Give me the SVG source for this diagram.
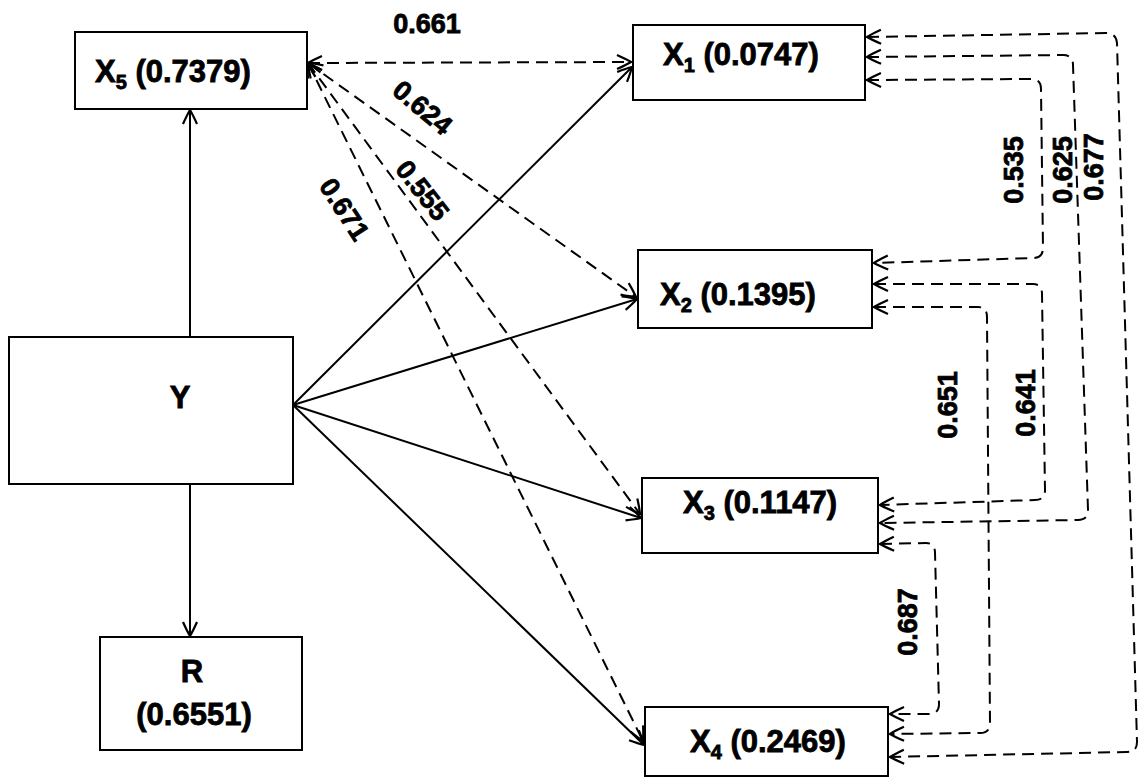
<svg xmlns="http://www.w3.org/2000/svg" width="1141" height="778" viewBox="0 0 1141 778">
<style>
.box{fill:#fff;stroke:#000;stroke-width:2}
.nt{font-family:"Liberation Sans",Arial,sans-serif;font-weight:bold;font-size:31px;fill:#000;stroke:#000;stroke-width:0.8}
.sub{font-size:20px}
.lb{font-family:"Liberation Sans",Arial,sans-serif;font-weight:bold;font-size:27px;fill:#000;stroke:#000;stroke-width:0.8;text-anchor:middle}
.sol{fill:none;stroke:#000;stroke-width:2;marker-end:url(#ah)}
.das{fill:none;stroke:#000;stroke-width:2;stroke-dasharray:12 7;marker-start:url(#ah);marker-end:url(#ah)}
</style>
<defs>
<marker id="ah" viewBox="-16 -9 18 18" markerWidth="18" markerHeight="18" refX="0" refY="0" orient="auto-start-reverse" markerUnits="userSpaceOnUse">
<path d="M-14,-7 Q-5,-3 0,0 Q-5,3 -14,7" fill="none" stroke="#000" stroke-width="2.2" stroke-dasharray="none"/>
</marker>
</defs>
<rect width="1141" height="778" fill="#fff"/>
<g id="connectors">
<path class="sol" d="M190,337 L190,110"/>
<path class="sol" d="M190,484 L190,636"/>
<path class="sol" d="M293,405 L632,67"/>
<path class="sol" d="M293,405 L637,299"/>
<path class="sol" d="M293,405 L641,518"/>
<path class="sol" d="M293,405 L644,745"/>
<path class="das" d="M308,63 L631,62"/>
<path class="das" d="M308,63 L636,297"/>
<path class="das" d="M308,63 L640,514"/>
<path class="das" d="M308,63 L643,741"/>
<path class="das" d="M867,37 L1106,33 Q1116,33 1117,43 L1137,742 Q1137,752 1127,752 L890,757"/>
<path class="das" d="M867,57 L1063,55 Q1073,55 1073,65 L1088,510 Q1088,520 1078,520 L880,523"/>
<path class="das" d="M867,80 L1031,79 Q1041,79 1041,89 L1043,248 Q1043,258 1033,258 L874,263"/>
<path class="das" d="M874,284 L1033,284 Q1042,284 1042,294 L1045,490 Q1045,500 1035,500 L880,505"/>
<path class="das" d="M874,307 L978,307 Q987,307 987,317 L990,723 Q990,733 980,733 L890,734"/>
<path class="das" d="M880,544 L926,543 Q935,543 935,553 L939,704 Q939,714 929,714 L890,714"/>
</g>
<g id="labels">
<text class="lb" x="427" y="33">0.661</text>
<text class="lb" transform="translate(423,107) rotate(40)" y="10">0.624</text>
<text class="lb" transform="translate(423,190) rotate(52)" y="10">0.555</text>
<text class="lb" transform="translate(345,209) rotate(57)" y="10">0.671</text>
<text class="lb" transform="translate(1013,170) rotate(-90)" y="10">0.535</text>
<text class="lb" transform="translate(1062,170) rotate(-90)" y="10">0.625</text>
<text class="lb" transform="translate(1093,167) rotate(-90)" y="10">0.677</text>
<text class="lb" transform="translate(1025,403) rotate(-90)" y="10">0.641</text>
<text class="lb" transform="translate(947,405) rotate(-90)" y="10">0.651</text>
<text class="lb" transform="translate(907,622) rotate(-90)" y="10">0.687</text>
</g>
<g id="node-X5"><rect class="box" x="75" y="32" width="232" height="77"/><text class="nt" x="95" y="82">X<tspan class="sub" dy="7">5</tspan><tspan dy="-7"> (0.7379)</tspan></text></g>
<g id="node-Y"><rect class="box" x="9" y="337" width="284" height="147"/><text class="nt" x="180" y="408" text-anchor="middle">Y</text></g>
<g id="node-R"><rect class="box" x="100" y="637" width="202" height="113"/><text class="nt" x="192" y="682" text-anchor="middle">R</text><text class="nt" x="194" y="725" text-anchor="middle">(0.6551)</text></g>
<g id="node-X1"><rect class="box" x="633" y="25" width="232" height="75"/><text class="nt" x="663" y="65">X<tspan class="sub" dy="7">1</tspan><tspan dy="-7"> (0.0747)</tspan></text></g>
<g id="node-X2"><rect class="box" x="638" y="250" width="234" height="78"/><text class="nt" x="660" y="305">X<tspan class="sub" dy="7">2</tspan><tspan dy="-7"> (0.1395)</tspan></text></g>
<g id="node-X3"><rect class="box" x="642" y="478" width="236" height="75"/><text class="nt" x="683" y="513">X<tspan class="sub" dy="7">3</tspan><tspan dy="-7"> (0.1147)</tspan></text></g>
<g id="node-X4"><rect class="box" x="645" y="707" width="243" height="69"/><text class="nt" x="690" y="752">X<tspan class="sub" dy="7">4</tspan><tspan dy="-7"> (0.2469)</tspan></text></g>
</svg>
